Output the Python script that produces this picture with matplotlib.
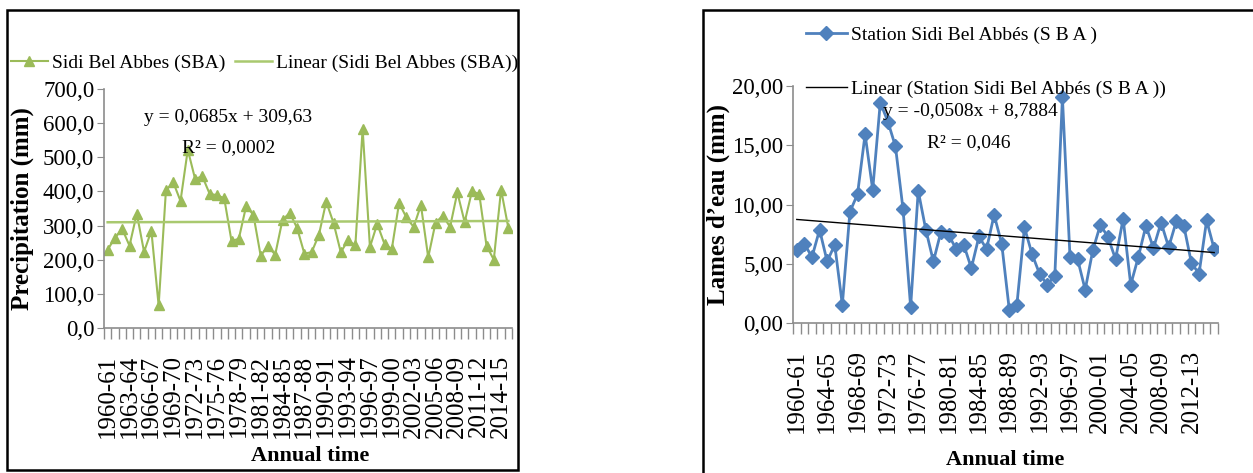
import matplotlib
matplotlib.use("Agg")
import matplotlib.pyplot as plt
from matplotlib.patches import Rectangle
import numpy as np

plt.rcParams['font.family'] = ['Liberation Serif', 'DejaVu Serif']

# categories: hydrological years 1960-61 .. 2015-16
years = [f"{y}-{str(y + 1)[-2:]}" for y in range(1960, 2016)]

# annual precipitation (mm), Sidi Bel Abbes
precip = [229, 264, 290, 241, 335, 223, 285, 66, 403, 427,
          372, 522, 437, 444, 393, 389, 380, 255, 261, 356,
          332, 212, 239, 215, 317, 337, 293, 218, 222, 273,
          370, 308, 222, 257, 242, 583, 237, 305, 246, 231,
          366, 324, 296, 360, 207, 308, 329, 296, 397, 310,
          400, 393, 241, 200, 405, 293]
precip_slope, precip_icpt = 0.0685, 309.63

# lames d'eau (mm), station Sidi Bel Abbes
lames = [6.12, 6.69, 5.56, 7.87, 5.20, 6.60, 1.54, 9.38, 10.87, 15.93,
         11.24, 18.60, 17.00, 14.90, 9.60, 1.35, 11.15, 7.87, 5.20, 7.72,
         7.44, 6.24, 6.60, 4.63, 7.30, 6.24, 9.13, 6.69, 1.12, 1.54,
         8.06, 5.81, 4.13, 3.23, 3.99, 19.04, 5.53, 5.39, 2.81, 6.12,
         8.29, 7.25, 5.39, 8.79, 3.23, 5.56, 8.20, 6.32, 8.48, 6.40,
         8.57, 8.20, 5.06, 4.16, 8.65, 6.24]
lames_slope, lames_icpt = -0.0508, 8.7884

left_yticks = [0, 100, 200, 300, 400, 500, 600, 700]
left_ylabels = ["0,0", "100,0", "200,0", "300,0", "400,0", "500,0", "600,0", "700,0"]
right_yticks = [0, 5, 10, 15, 20]
right_ylabels = ["0,00", "5,00", "10,00", "15,00", "20,00"]

GREEN = "#9BBB59"
GREEN_TR = "#A9C96F"
BLUE = "#4F81BD"
AXC = "#8C8C8C"

W, H = 1253, 473
fig = plt.figure(figsize=(W / 100, H / 100), dpi=100)


def fx(px):
    return px / W


def fy(py):
    return 1 - py / H


def style_axes(ax, n, step, ymax, yticks, ylabels):
    x = np.arange(n)
    ax.set_xlim(-0.5, n - 0.5)
    ax.set_ylim(0, ymax)
    for s in ["top", "right"]:
        ax.spines[s].set_visible(False)
    for s in ["left", "bottom"]:
        ax.spines[s].set_color(AXC)
        ax.spines[s].set_linewidth(1.2)
    ax.set_yticks(yticks)
    ax.set_yticklabels(ylabels, fontsize=16.5)
    ax.tick_params(axis="y", direction="out", length=5, color=AXC, pad=2)
    ax.set_xticks(x[::step])
    ax.set_xticklabels(years[::step], rotation=90, fontsize=18)
    ax.tick_params(axis="x", which="major", length=0, pad=19)
    ax.set_xticks(np.arange(n + 1) - 0.5, minor=True)
    ax.tick_params(axis="x", which="minor", direction="out", length=8, color=AXC, width=1)


# ---- left panel ----
ax1 = fig.add_axes([fx(104), fy(328), fx(512 - 104), fy(89) - fy(328)])
x = np.arange(len(precip))
ax1.plot(x, precip, color=GREEN, lw=1.5, marker="^", ms=7, label="Sidi Bel Abbes (SBA)")
ax1.plot(x, precip_slope * (x + 1) + precip_icpt, color=GREEN_TR, lw=1.8,
         label="Linear (Sidi Bel Abbes (SBA))")
style_axes(ax1, len(precip), 3, 700, left_yticks, left_ylabels)
ax1.set_ylabel("Precipitation (mm)", fontsize=18, fontweight="bold", va="center")
ax1.yaxis.set_label_coords((22 - 104) / 408, 0.5)
fig.text(fx(310), fy(456), "Annual time", fontsize=16, fontweight="bold", ha="center", va="center")
fig.text(fx(228), fy(117), "y = 0,0685x + 309,63", fontsize=14, ha="center", va="center")
fig.text(fx(229), fy(148), "R² = 0,0002", fontsize=14, ha="center", va="center")
fig.legend(*ax1.get_legend_handles_labels(), loc="center left", bbox_to_anchor=(fx(11), fy(63)),
           ncol=2, frameon=False, fontsize=14, handlelength=1.9, handletextpad=0.2,
           columnspacing=0.5, borderaxespad=0, borderpad=0)

# ---- right panel ----
ax2 = fig.add_axes([fx(793), fy(323), fx(1218 - 793), fy(86) - fy(323)])
x = np.arange(len(lames))
ax2.plot(x, lames, color=BLUE, lw=2, marker="D", ms=7, label="Station Sidi Bel Abbés (S B A )")
ax2.plot(x, lames_slope * (x + 1) + lames_icpt, color="black", lw=1,
         label="Linear (Station Sidi Bel Abbés (S B A ))")
style_axes(ax2, len(lames), 4, 20, right_yticks, right_ylabels)
ax2.set_ylabel("Lames d’eau (mm)", fontsize=18, fontweight="bold", va="center")
ax2.yaxis.set_label_coords((718 - 793) / 425, 0.5)
fig.text(fx(1005), fy(460), "Annual time", fontsize=16, fontweight="bold", ha="center", va="center")
fig.text(fx(970), fy(112), "y = -0,0508x + 8,7884", fontsize=14, ha="center", va="center")
fig.text(fx(969), fy(143), "R² = 0,046", fontsize=14, ha="center", va="center")
fig.legend(*ax2.get_legend_handles_labels(), loc="upper left", bbox_to_anchor=(fx(806), fy(26)),
           ncol=1, frameon=False, fontsize=14, handlelength=2.1, handletextpad=0.2,
           labelspacing=1.9, borderaxespad=0, borderpad=0)

# panel frames
fig.patches.append(Rectangle((fx(7), fy(470)), fx(511), fy(10) - fy(470), transform=fig.transFigure,
                             fill=False, ec="black", lw=1.8))
fig.patches.append(Rectangle((fx(703), fy(480)), fx(560), fy(10) - fy(480), transform=fig.transFigure,
                             fill=False, ec="black", lw=1.8, clip_on=False))

fig.savefig("out.png", dpi=100)
